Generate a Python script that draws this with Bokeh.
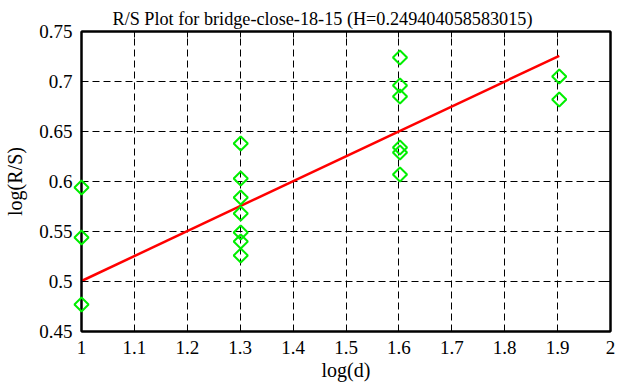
from bokeh.plotting import figure
from bokeh.models import Range1d, LinearAxis, FixedTicker
from bokeh.embed import file_html
from bokeh.resources import INLINE

# data: x = log(d), y = log(R/S)
pts_x = [1.0, 1.0, 1.0,
         1.30103, 1.30103, 1.30103, 1.30103, 1.30103, 1.30103, 1.30103,
         1.60206, 1.60206, 1.60206, 1.60206, 1.60206, 1.60206,
         1.90309, 1.90309]
pts_y = [0.594, 0.544, 0.477,
         0.638, 0.603, 0.584, 0.568, 0.549, 0.540, 0.526,
         0.724, 0.696, 0.685, 0.634, 0.629, 0.607,
         0.705, 0.682]
fit_x = [1.0, 1.90309]
fit_y = [0.5005, 0.7257]

x_ticks = [1.0, 1.1, 1.2, 1.3, 1.4, 1.5, 1.6, 1.7, 1.8, 1.9, 2.0]
x_labels = ["1", "1.1", "1.2", "1.3", "1.4", "1.5", "1.6", "1.7", "1.8", "1.9", "2"]
y_ticks = [0.45, 0.5, 0.55, 0.6, 0.65, 0.7, 0.75]
y_labels = ["0.45", "0.5", "0.55", "0.6", "0.65", "0.7", "0.75"]
title_text = "R/S Plot for bridge-close-18-15 (H=0.249404058583015)"

FONT = "Liberation Serif"

p = figure(width=617, height=387, x_range=Range1d(1, 2), y_range=Range1d(0.45, 0.75),
           output_backend="svg", toolbar_location=None, title=title_text,
           min_border_left=81, min_border_right=7, min_border_top=31, min_border_bottom=56)

p.title.text_font = FONT
p.title.text_font_size = "18.2px"
p.title.text_font_style = "normal"
p.title.text_color = "black"
p.title.align = "left"
p.title.offset = 31
p.title.standoff = 2
p.title.vertical_align = "top"

p.outline_line_color = "black"
p.outline_line_width = 2
p.outline_line_alpha = 1

def style_axis(ax, ticks, labels, show_labels=True):
    ax.ticker = FixedTicker(ticks=ticks)
    if show_labels:
        ax.major_label_overrides = {t: l for t, l in zip(ticks, labels)}
    else:
        ax.major_label_overrides = {t: "" for t in ticks}
    ax.major_tick_in = 6
    ax.major_tick_out = 0
    ax.minor_tick_in = 0
    ax.minor_tick_out = 0
    ax.major_tick_line_color = "black"
    ax.major_tick_line_width = 1
    ax.axis_line_color = "black"
    ax.axis_line_width = 2
    ax.major_label_text_font = FONT
    ax.major_label_text_font_size = "19px"
    ax.major_label_text_font_style = "normal"
    ax.major_label_text_color = "black"
    ax.axis_label_text_font = FONT
    ax.axis_label_text_font_size = "20px"
    ax.axis_label_text_font_style = "normal"
    ax.axis_label_text_color = "black"

style_axis(p.xaxis[0], x_ticks, x_labels)
style_axis(p.yaxis[0], y_ticks, y_labels)
p.xaxis[0].axis_label = "log(d)"
p.yaxis[0].axis_label = "log(R/S)"
p.xaxis[0].major_label_standoff = 9
p.yaxis[0].major_label_standoff = 9
p.xaxis[0].axis_label_standoff = 2
p.yaxis[0].axis_label_standoff = 10

top = LinearAxis()
right = LinearAxis()
style_axis(top, x_ticks, x_labels, show_labels=False)
style_axis(right, y_ticks, y_labels, show_labels=False)
top.major_label_standoff = 0
right.major_label_standoff = 0
p.add_layout(top, "above")
p.add_layout(right, "right")

for g, ticks in ((p.xgrid[0], x_ticks), (p.ygrid[0], y_ticks)):
    g.ticker = FixedTicker(ticks=ticks[1:-1])
    g.grid_line_color = "black"
    g.grid_line_dash = "7 4"
    g.grid_line_width = 1
    g.grid_line_alpha = 1

p.line(fit_x, fit_y, line_color="#ff0000", line_width=2.5)
p.scatter(pts_x, pts_y, marker="square", size=10, angle=0.785398,
          fill_color=None, line_color="#00ee00", line_width=2, level="overlay")

open("out.html", "w").write(file_html(p, INLINE))
